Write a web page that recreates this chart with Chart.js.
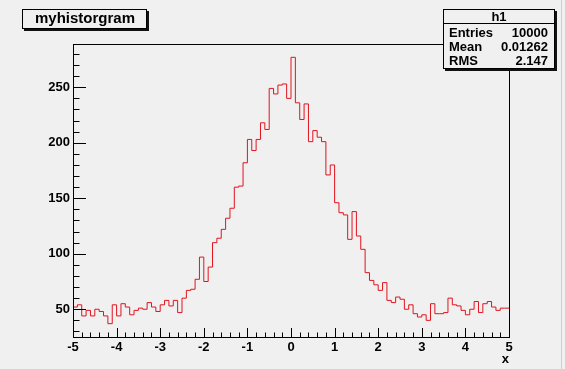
<!DOCTYPE html>
<html><head><meta charset="utf-8">
<script src="https://cdn.jsdelivr.net/npm/chart.js@4.4.1/dist/chart.umd.min.js"></script>
<style>html,body{margin:0;padding:0;background:#f0f0f0;}canvas{display:block;}</style>
</head><body>
<canvas id="c" width="565" height="369"></canvas>
<script>
const histTitle = 'myhistorgram';
const histName = 'h1';
const xMin = -5, xMax = 5;
const counts = [
  50, 52, 54, 44, 49, 44, 50, 48, 44, 37,
  54, 44, 55, 52, 45, 49, 51, 50, 56, 52,
  48, 54, 58, 53, 58, 47, 60, 67, 68, 77,
  97, 75, 88, 110, 114, 122, 132, 141, 160, 161,
  182, 203, 193, 203, 218, 212, 249, 244, 252, 253,
  240, 277, 236, 221, 235, 201, 211, 205, 201, 171,
  180, 146, 137, 135, 113, 138, 116, 104, 83, 76,
  72, 67, 74, 58, 56, 61, 59, 50, 54, 46,
  43, 45, 40, 55, 46, 46, 47, 60, 54, 53,
  49, 45, 50, 57, 47, 55, 57, 52, 49, 51
];
const statLabels = ['Entries', 'Mean', 'RMS'];
const statValues = ['10000', '0.01262', '2.147'];
const xTickValues = [-5, -4, -3, -2, -1, 0, 1, 2, 3, 4, 5];
const yTickValues = [50, 100, 150, 200, 250];
const yMin = 25, yMax = 289;
const xAxisTitle = 'x';

const FONT = 'Liberation Sans, Arial, Helvetica, sans-serif';
const binWidth = (xMax - xMin) / counts.length;
const points = counts.map((c, i) => ({x: xMin + i * binWidth, y: c}));
points.push({x: xMax, y: counts[counts.length - 1]});

const decor = {
  id: 'decor',
  beforeDraw(chart) {
    const ctx = chart.ctx;
    ctx.save();
    ctx.fillStyle = '#f0f0f0';
    ctx.fillRect(0, 0, chart.width, chart.height);
    ctx.strokeStyle = '#cfcfcf';
    ctx.lineWidth = 1;
    ctx.beginPath(); ctx.moveTo(561.5, 0); ctx.lineTo(561.5, chart.height); ctx.stroke();
    ctx.restore();
  },
  afterDraw(chart) {
    const ctx = chart.ctx;
    const a = chart.chartArea;
    const xs = chart.scales.x, ys = chart.scales.y;
    ctx.save();
    ctx.strokeStyle = '#000';
    ctx.lineWidth = 1;
    // frame
    ctx.strokeRect(Math.round(a.left) + 0.5, Math.round(a.top) + 0.5,
                   Math.round(a.right - a.left), Math.round(a.bottom - a.top));
    // x ticks (inside)
    ctx.beginPath();
    for (let k = 0; k <= 50; k++) {
      const v = xMin + k * 0.2;
      const px = Math.round(xs.getPixelForValue(v)) + 0.5;
      const len = (k % 5 === 0) ? 9 : 4.5;
      ctx.moveTo(px, a.bottom);
      ctx.lineTo(px, a.bottom - len);
    }
    // y ticks (inside)
    for (let v = 30; v <= 280; v += 10) {
      const py = Math.round(ys.getPixelForValue(v)) + 0.5;
      const len = (v % 50 === 0) ? 13 : 6.5;
      ctx.moveTo(a.left, py);
      ctx.lineTo(a.left + len, py);
    }
    ctx.stroke();

    // title box
    const drawBox = (x, y, w, h) => {
      ctx.fillStyle = '#111';
      ctx.fillRect(x + 2, y + 2, w, h);
      ctx.fillStyle = '#f0f0f0';
      ctx.fillRect(x, y, w, h);
      ctx.strokeStyle = '#000';
      ctx.strokeRect(x + 0.5, y + 0.5, w - 1, h - 1);
    };
    drawBox(22, 9, 125, 20);
    ctx.fillStyle = '#000';
    ctx.font = 'bold 15px ' + FONT;
    ctx.textAlign = 'center';
    ctx.textBaseline = 'alphabetic';
    ctx.fillText(histTitle, 85, 23);

    // stats box
    const sx = 443, sy = 9, sw = 112, sh = 60;
    drawBox(sx, sy, sw, sh);
    ctx.beginPath();
    ctx.moveTo(sx, 23.5); ctx.lineTo(sx + sw, 23.5); ctx.stroke();
    ctx.fillStyle = '#000';
    ctx.font = 'bold 13px ' + FONT;
    ctx.textAlign = 'center';
    ctx.fillText(histName, 499, 21);
    const rowY = [37, 51, 65];
    statLabels.forEach((lab, i) => {
      ctx.textAlign = 'left';
      ctx.fillText(lab, 449, rowY[i]);
      ctx.textAlign = 'right';
      ctx.fillText(statValues[i], 548, rowY[i]);
    });
    ctx.restore();
  }
};

const labelFont = {family: FONT, weight: 'bold', size: 13};

new Chart(document.getElementById('c'), {
  type: 'line',
  data: {
    datasets: [{
      data: points,
      borderColor: '#e0141e',
      borderWidth: 1,
      pointRadius: 0,
      stepped: 'after',
      fill: false,
      tension: 0
    }]
  },
  options: {
    responsive: false,
    animation: false,
    devicePixelRatio: 1,
    layout: {padding: {top: 44, right: 56, left: 0, bottom: 0}},
    plugins: {legend: {display: false}, tooltip: {enabled: false}, title: {display: false}},
    scales: {
      x: {
        type: 'linear', min: xMin, max: xMax,
        afterBuildTicks: s => { s.ticks = xTickValues.map(v => ({value: v})); },
        afterFit: s => { s.height = 32; },
        grid: {display: false, drawTicks: false},
        border: {display: false},
        ticks: {padding: 3, color: '#000', font: labelFont, autoSkip: false, maxRotation: 0,
                callback: v => String(v)},
        title: {display: true, text: xAxisTitle, align: 'end', color: '#000', font: labelFont,
                padding: {top: 0, bottom: 2}}
      },
      y: {
        type: 'linear', min: yMin, max: yMax,
        afterBuildTicks: s => { s.ticks = yTickValues.map(v => ({value: v})); },
        afterFit: s => { s.width = 73; },
        grid: {display: false, drawTicks: false},
        border: {display: false},
        ticks: {padding: 3, color: '#000', font: labelFont, callback: v => String(v)}
      }
    }
  },
  plugins: [decor]
});
</script>
</body></html>
